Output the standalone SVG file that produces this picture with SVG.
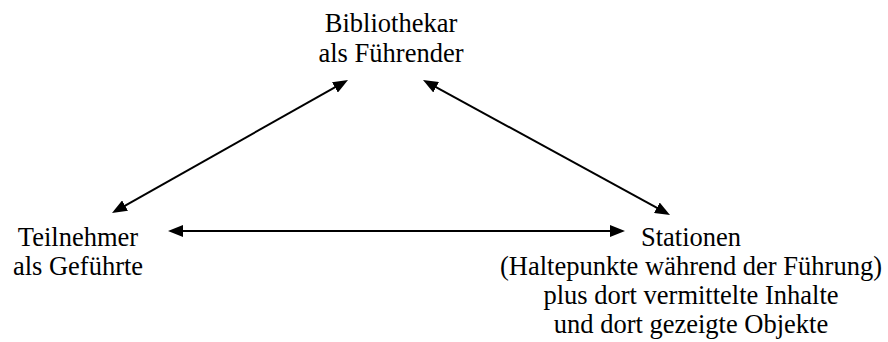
<svg xmlns="http://www.w3.org/2000/svg" width="888" height="342" viewBox="0 0 888 342">
  <defs>
    <style>
      text { font-family: 'Liberation Serif', 'DejaVu Serif', serif; font-size: 26.5px; fill: #000; text-anchor: middle; }
      .conn { stroke: #000; stroke-width: 2; fill: none; marker-start: url(#ah); marker-end: url(#ah); }
    </style>
    <marker id="ah" viewBox="0 0 15 12" markerWidth="15" markerHeight="12" refX="7" refY="6" markerUnits="userSpaceOnUse" orient="auto-start-reverse">
      <path d="M0,0 L15,6 L0,12 z" fill="#000"/>
    </marker>
  </defs>
  <rect width="888" height="342" fill="#fff"/>
  <g id="node-bibliothekar" font-family="Liberation Serif, DejaVu Serif, serif">
    <text x="391" y="32">Bibliothekar</text>
    <text x="391" y="62">als Führender</text>
  </g>
  <g id="node-teilnehmer" font-family="Liberation Serif, DejaVu Serif, serif">
    <text x="78" y="246">Teilnehmer</text>
    <text x="78" y="275">als Geführte</text>
  </g>
  <g id="node-stationen" font-family="Liberation Serif, DejaVu Serif, serif">
    <text x="691" y="246">Stationen</text>
    <text x="691" y="275">(Haltepunkte während der Führung)</text>
    <text x="691" y="304">plus dort vermittelte Inhalte</text>
    <text x="691" y="333">und dort gezeigte Objekte</text>
  </g>
  <g id="connectors">
    <line class="conn" x1="118.97" y1="209.07" x2="341.03" y2="83.93"/>
    <line class="conn" x1="430.02" y1="83.84" x2="662.98" y2="211.16"/>
    <line class="conn" x1="176" y1="231" x2="617" y2="231"/>
  </g>
</svg>
